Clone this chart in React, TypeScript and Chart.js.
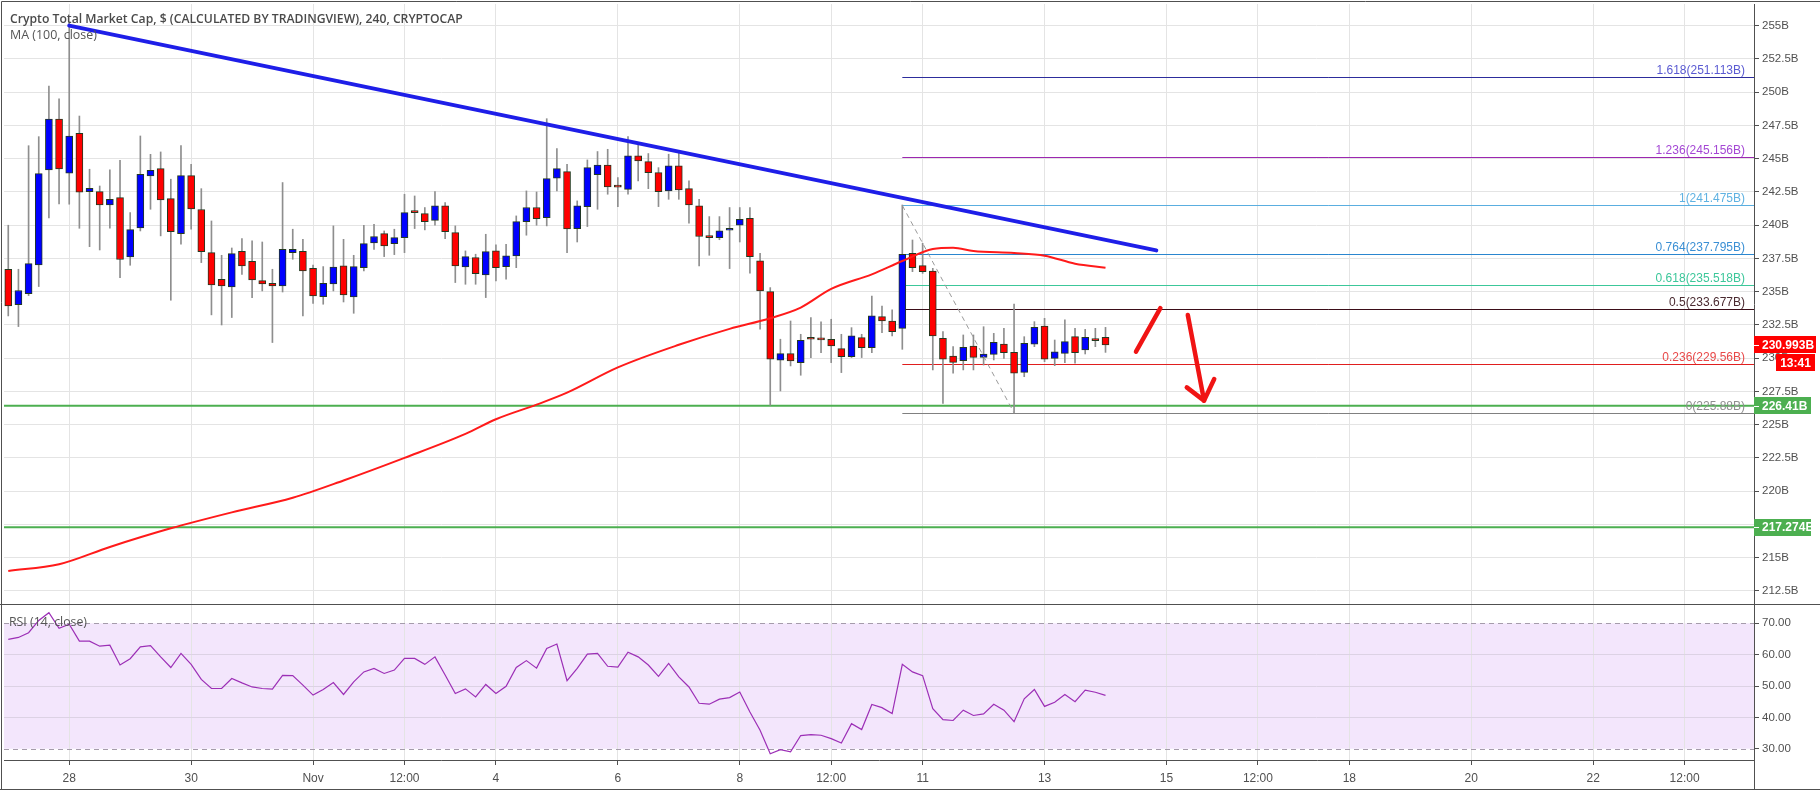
import React, { useEffect, useRef } from "react";
import { Chart, registerables } from "chart.js";

Chart.register(...registerables);

// ---------------- data ----------------
// 4h candles; bar index 0 = Oct 28 00:00. First candle is index -6.
const FIRST_INDEX = -6;

const candleOpen = [
  236.68, 234.02, 234.85, 237.0, 244.14, 247.98, 243.9, 246.9, 242.52, 242.52,
  241.52, 242.07, 237.6, 239.79, 243.7, 244.25, 241.99, 239.36, 243.72, 241.17,
  237.93, 235.93, 235.35, 238.03, 237.28, 235.83, 235.63, 235.43, 237.93, 238.03,
  236.75, 234.62, 235.58, 236.93, 234.6, 236.8, 238.66, 239.36, 238.61, 239.06,
  241.04, 240.86, 240.36, 241.44, 239.44, 236.85, 237.56, 236.25, 238.06, 236.88,
  237.68, 240.26, 241.32, 240.56, 243.52, 244.02, 239.74, 241.39, 243.8, 244.52,
  242.87, 242.69, 245.2, 244.77, 243.95, 242.57, 244.45, 242.74, 241.44, 239.14,
  239.06, 239.61, 239.99, 240.51, 237.31, 235.0, 229.84, 230.34, 229.66, 231.49,
  231.49, 231.42, 230.71, 230.11, 231.54, 230.79, 233.12, 232.79, 232.24, 237.88,
  236.95, 236.55, 231.49, 230.16, 229.81, 230.91, 230.06, 230.28, 231.06, 230.43,
  228.93, 231.04, 232.41, 229.98, 230.36, 231.61, 230.61, 231.36, 231.56,
];
const candleHigh = [
  239.99, 236.68, 245.97, 246.65, 250.46, 249.5, 255.2, 248.2, 244.2, 242.94,
  244.15, 244.87, 240.94, 246.7, 245.32, 245.5, 243.45, 245.97, 244.57, 242.74,
  240.31, 237.73, 238.28, 238.98, 238.81, 238.73, 236.68, 243.2, 239.69, 238.93,
  237.0, 236.88, 239.94, 238.93, 237.73, 239.99, 240.06, 239.56, 239.69, 242.32,
  242.19, 241.32, 242.52, 241.69, 239.94, 238.06, 237.81, 239.31, 238.51, 238.56,
  240.69, 242.57, 242.49, 248.0, 245.75, 244.57, 241.82, 244.9, 245.53, 245.7,
  243.57, 246.65, 246.0, 245.38, 244.32, 245.33, 245.4, 243.32, 241.94, 240.64,
  240.64, 241.32, 241.32, 241.32, 237.88, 235.3, 231.42, 232.79, 231.79, 233.04,
  232.72, 232.92, 231.79, 232.29, 231.79, 234.67, 233.92, 233.62, 241.51, 238.88,
  238.63, 236.75, 231.99, 230.86, 231.74, 231.74, 232.36, 231.86, 232.24, 234.07,
  231.61, 232.74, 232.99, 231.36, 232.87, 232.24, 232.16, 232.24, 232.31,
];
const candleLow = [
  233.17, 232.37, 234.7, 235.38, 240.54, 241.6, 241.57, 239.76, 238.38, 238.13,
  239.76, 236.05, 236.98, 239.56, 241.19, 239.19, 234.35, 238.56, 239.69, 237.18,
  233.25, 232.49, 233.05, 236.3, 234.55, 235.05, 231.17, 234.97, 237.43, 233.17,
  234.12, 234.05, 235.05, 234.22, 233.37, 236.55, 238.18, 237.63, 237.78, 237.93,
  239.74, 239.64, 239.99, 238.98, 235.68, 235.55, 235.55, 234.55, 235.8, 235.93,
  236.8, 239.24, 239.99, 239.94, 242.57, 237.93, 238.73, 239.89, 241.19, 242.32,
  241.39, 242.32, 243.32, 242.74, 241.39, 241.94, 241.94, 240.14, 236.93, 237.73,
  238.9, 236.73, 238.73, 236.38, 232.17, 226.45, 227.53, 229.41, 228.71, 230.04,
  230.41, 229.66, 228.91, 230.04, 230.04, 230.41, 231.92, 231.67, 230.66, 236.5,
  236.37, 229.11, 226.6, 228.86, 229.11, 229.11, 229.48, 229.86, 229.98, 225.88,
  228.6, 230.86, 229.73, 229.43, 229.66, 229.61, 230.31, 230.86, 230.43,
];
const candleClose = [
  233.92, 235.08, 237.1, 243.87, 247.98, 244.22, 246.7, 242.47, 242.77, 241.52,
  241.94, 237.41, 239.66, 243.82, 244.12, 241.9, 239.51, 243.72, 241.22, 238.0,
  235.5, 235.43, 237.86, 236.93, 235.88, 235.58, 235.43, 238.18, 238.18, 236.55,
  234.67, 235.63, 236.85, 234.75, 236.88, 238.61, 239.14, 238.43, 239.06, 240.94,
  240.94, 240.26, 241.44, 239.51, 236.93, 237.63, 236.35, 238.01, 236.8, 237.68,
  240.26, 241.32, 240.49, 243.5, 244.25, 239.71, 241.44, 244.32, 244.52, 242.87,
  242.85, 245.2, 244.82, 243.95, 242.52, 244.45, 242.64, 241.52, 239.14, 239.06,
  239.56, 239.74, 240.44, 237.63, 235.05, 229.91, 230.34, 229.79, 231.34, 231.42,
  231.37, 230.91, 230.11, 231.67, 230.79, 233.17, 232.79, 231.99, 237.8, 236.8,
  236.5, 231.66, 229.91, 229.68, 230.81, 230.06, 230.31, 231.19, 230.41, 228.86,
  231.11, 232.31, 229.91, 230.48, 231.24, 230.41, 231.56, 231.31, 230.99,
];

const rsiValues = [
  64.9, 65.5, 67.0, 70.9, 73.4, 68.4, 69.7, 64.3, 64.3, 62.7,
  63.0, 56.7, 58.7, 62.5, 62.9, 59.3, 55.9, 60.4, 56.9, 52.1,
  49.2, 49.2, 52.4, 51.0, 49.7, 49.2, 49.0, 53.4, 53.3, 50.3,
  47.1, 48.9, 51.1, 47.3, 51.3, 54.5, 55.6, 54.0, 55.1, 58.8,
  58.8, 56.9, 59.3, 53.5, 47.6, 49.1, 46.5, 50.5, 47.6, 49.9,
  55.9, 58.1, 55.7, 62.0, 63.4, 51.7, 55.6, 60.2, 60.4, 56.3,
  56.0, 60.8, 59.3, 56.7, 53.1, 57.2, 52.9, 49.7, 44.5, 44.2,
  45.8, 46.3, 48.1, 41.7, 35.9, 28.4, 29.7, 29.0, 34.2, 34.5,
  34.3, 33.2, 31.8, 38.0, 36.1, 44.1, 43.1, 41.2, 56.9, 54.5,
  53.3, 42.8, 39.3, 39.0, 42.3, 40.6, 41.1, 44.2, 42.3, 38.6,
  45.9, 48.9, 43.5, 44.8, 47.3, 45.0, 48.7, 48.0, 47.0,
];

// MA(100) read at a subset of bars
const maIndex = [-6, -1, 4, 10, 16, 22, 27, 33, 39, 42, 46, 49, 54, 60, 65, 69, 72, 75, 79, 82, 85, 87, 89, 93, 96, 99, 102];
const maValues = [214.0, 214.5, 215.8, 217.2, 218.4, 219.5, 220.8, 222.5, 224.3, 225.4, 226.5, 227.4, 229.3, 231.0, 232.2, 233.0, 233.8, 235.2, 236.3, 237.3, 238.2, 238.3, 238.05, 237.9, 237.7, 237.1, 236.8];

// descending trend line
const trendIndex = [0, 107];
const trendValues = [255.0, 238.1];

// fibonacci extension
const fibLevels = [1.618, 1.236, 1, 0.764, 0.618, 0.5, 0.236, 0];
const fibValues = [251.113, 245.156, 241.475, 237.795, 235.518, 233.677, 229.56, 225.88];
const fibLineColors = ["#2d2d9c", "#9c27b0", "#5aaee0", "#2a86cf", "#3cc79a", "#3b0d18", "#e01e1e", "#808080"];
const fibTextColors = ["#5a5ad2", "#a447d4", "#5fb2e2", "#3a8fd4", "#3cc79a", "#4a2a30", "#e84848", "#8f8f8f"];
const fibStartIndex = 82;
const fibAnchorIndex = [82, 93];
const fibAnchorValues = [241.475, 225.88];

// horizontal supports
const supportLevels = [226.41, 217.274];
const supportLabels = ["226.41B", "217.274B"];

const lastPrice = 230.993;
const lastPriceLabel = "230.993B";
const countdownLabel = "13:41";

// hand-drawn arrows
const arrowUpIndex = [105.0, 107.4];
const arrowUpValues = [230.48, 233.75];
const arrowDownIndex = [110.1, 111.7];
const arrowDownValues = [233.24, 226.8];
const arrowHeadIndex = [110.0, 111.7, 112.7];
const arrowHeadValues = [227.8, 226.8, 228.43];

const priceTicks = [212.5, 215, 217.5, 220, 222.5, 225, 227.5, 230, 232.5, 235, 237.5, 240, 242.5, 245, 247.5, 250, 252.5, 255];
const rsiTicks = [30, 40, 50, 60, 70];
const timeTickIndex = [0, 12, 24, 33, 42, 54, 66, 75, 84, 96, 108, 117, 126, 138, 150, 159];
const timeTickLabels = ["28", "30", "Nov", "12:00", "4", "6", "8", "12:00", "11", "13", "15", "12:00", "18", "20", "22", "12:00"];

const titleText = "Crypto Total Market Cap, $ (CALCULATED BY TRADINGVIEW), 240, CRYPTOCAP";
const maText = "MA (100, close)";
const rsiText = "RSI (14, close)";

// ---------------- layout / style ----------------
const X_MIN = -6.42;
const X_MAX = 165.83;
const PRICE_MIN = 211.511;
const PRICE_MAX = 256.624;
const RSI_MIN = 26.4;
const RSI_MAX = 76.16;

const AXIS_FONT = "'Liberation Sans', Arial, sans-serif";
const TITLE_FONT = "'Open Sans', 'Noto Sans', sans-serif";
const GRID = "#e4e4e4";
const AXIS_LINE = "#505050";
const TEXT = "#505050";

function fitText(ctx: CanvasRenderingContext2D, text: string, x: number, y: number, weight: string, family: string, target: number, color: string) {
  ctx.font = `${weight} 20px ${family}`;
  const w = ctx.measureText(text).width;
  const size = (20 * target) / w;
  ctx.font = `${weight} ${size.toFixed(2)}px ${family}`;
  ctx.fillStyle = color;
  ctx.textAlign = "left";
  ctx.textBaseline = "alphabetic";
  ctx.fillText(text, x, y);
}

const pts = (xs: number[], ys: number[]) => xs.map((x, i) => ({ x, y: ys[i] }));

const mainPlugin = {
  id: "mainOverlay",
  beforeDatasetsDraw(chart: any) {
    const { ctx, chartArea: a, scales } = chart;
    const x = scales.x;
    const y = scales.y;
    ctx.save();
    ctx.beginPath();
    ctx.rect(a.left, a.top, a.right - a.left, a.bottom - a.top);
    ctx.clip();
    const xs = x.getPixelForValue(fibStartIndex);
    fibValues.forEach((v, i) => {
      const py = Math.round(y.getPixelForValue(v)) + 0.5;
      ctx.strokeStyle = fibLineColors[i];
      ctx.lineWidth = 1;
      ctx.beginPath();
      ctx.moveTo(xs, py);
      ctx.lineTo(a.right, py);
      ctx.stroke();
    });
    supportLevels.forEach((v) => {
      const py = y.getPixelForValue(v);
      ctx.strokeStyle = "#4caf50";
      ctx.lineWidth = 2;
      ctx.beginPath();
      ctx.moveTo(a.left, py);
      ctx.lineTo(a.right, py);
      ctx.stroke();
    });
    ctx.restore();
  },
  afterDraw(chart: any) {
    const { ctx, chartArea: a, scales } = chart;
    const y = scales.y;
    ctx.save();
    // fib labels
    ctx.font = `12px ${AXIS_FONT}`;
    ctx.textAlign = "right";
    ctx.textBaseline = "alphabetic";
    fibValues.forEach((v, i) => {
      const py = y.getPixelForValue(v);
      ctx.fillStyle = fibTextColors[i];
      ctx.fillText(`${fibLevels[i]}(${v}B)`, a.right - 9, py - 3);
    });
    // titles
    fitText(ctx, titleText, 10, 22.5, "600", TITLE_FONT, 453, "#4a4a4a");
    fitText(ctx, maText, 10, 39, "400", TITLE_FONT, 87, "#555555");

    // axis boxes
    const box = (cy: number, x0: number, x1: number, fill: string, text: string, tick: boolean) => {
      ctx.fillStyle = fill;
      ctx.fillRect(x0, Math.round(cy - 8.5), x1 - x0, 17);
      if (tick) {
        ctx.strokeStyle = "#ffffff";
        ctx.lineWidth = 1;
        ctx.beginPath();
        ctx.moveTo(x0, Math.round(cy) + 0.5);
        ctx.lineTo(x0 + 5, Math.round(cy) + 0.5);
        ctx.stroke();
      }
      ctx.fillStyle = "#ffffff";
      ctx.font = `bold 12px ${AXIS_FONT}`;
      ctx.textBaseline = "middle";
      ctx.textAlign = tick ? "left" : "center";
      ctx.fillText(text, tick ? x0 + 8 : (x0 + x1) / 2, Math.round(cy) + 0.5);
    };
    const yl = y.getPixelForValue(lastPrice);
    box(yl, a.right, 1816, "#ff0000", lastPriceLabel, true);
    box(yl + 18, a.right + 22, 1815, "#ff0000", countdownLabel, false);
    supportLevels.forEach((v, i) => {
      box(y.getPixelForValue(v), a.right, 1811, "#4caf50", supportLabels[i], true);
    });

    // frame
    ctx.strokeStyle = AXIS_LINE;
    ctx.lineWidth = 1;
    ctx.beginPath();
    ctx.moveTo(1.5, chart.height);
    ctx.lineTo(1.5, 1.5);
    ctx.lineTo(chart.width, 1.5);
    ctx.stroke();
    ctx.restore();
  },
};

const rsiPlugin = {
  id: "rsiOverlay",
  beforeDraw(chart: any) {
    const { ctx, chartArea: a, scales } = chart;
    const y = scales.y;
    const y70 = y.getPixelForValue(70);
    const y30 = y.getPixelForValue(30);
    ctx.save();
    ctx.fillStyle = "#f3e6fc";
    ctx.fillRect(a.left, y70, a.right - a.left, y30 - y70);
    ctx.restore();
  },
  beforeDatasetsDraw(chart: any) {
    const { ctx, chartArea: a, scales } = chart;
    const y = scales.y;
    ctx.save();
    ctx.strokeStyle = "#a59cab";
    ctx.lineWidth = 1;
    ctx.setLineDash([5, 4]);
    [70, 30].forEach((v) => {
      const py = Math.round(y.getPixelForValue(v)) + 0.5;
      ctx.beginPath();
      ctx.moveTo(a.left, py);
      ctx.lineTo(a.right, py);
      ctx.stroke();
    });
    ctx.restore();
  },
  afterDraw(chart: any) {
    const { ctx, chartArea: a } = chart;
    ctx.save();
    fitText(ctx, rsiText, 9, 21.5, "400", TITLE_FONT, 78, "#555555");
    ctx.strokeStyle = AXIS_LINE;
    ctx.lineWidth = 1;
    ctx.beginPath();
    ctx.moveTo(0, 0.5);
    ctx.lineTo(chart.width, 0.5);
    ctx.moveTo(0, 185.5);
    ctx.lineTo(chart.width, 185.5);
    ctx.moveTo(1.5, 0);
    ctx.lineTo(1.5, 186);
    ctx.moveTo(a.right + 0.5, a.bottom);
    ctx.lineTo(a.right + 0.5, 186);
    ctx.stroke();
    ctx.restore();
  },
};

export default function App() {
  const mainRef = useRef<HTMLCanvasElement>(null);
  const rsiRef = useRef<HTMLCanvasElement>(null);

  useEffect(() => {
    const n = candleOpen.length;
    const idx = Array.from({ length: n }, (_, i) => FIRST_INDEX + i);
    const wickData = idx.map((x, i) => ({ x, y: [candleLow[i], candleHigh[i]] }));
    const bodyData = idx.map((x, i) => ({ x, y: [candleOpen[i], candleClose[i]] }));
    const bodyColors = idx.map((_, i) => (candleClose[i] >= candleOpen[i] ? "#0000ff" : "#ff0000"));

    const lineBase = { type: "line" as const, pointRadius: 0, fill: false, tension: 0 };

    const main = new Chart(mainRef.current!, {
      type: "bar",
      data: {
        datasets: [
          { ...lineBase, data: pts(arrowUpIndex, arrowUpValues), borderColor: "#f01414", borderWidth: 4.5, borderCapStyle: "round", borderJoinStyle: "round", order: 0 } as any,
          { ...lineBase, data: pts(arrowDownIndex, arrowDownValues), borderColor: "#f01414", borderWidth: 4.5, borderCapStyle: "round", borderJoinStyle: "round", order: 0 } as any,
          { ...lineBase, data: pts(arrowHeadIndex, arrowHeadValues), borderColor: "#f01414", borderWidth: 4.5, borderCapStyle: "round", borderJoinStyle: "round", order: 0 } as any,
          { ...lineBase, data: pts(trendIndex, trendValues), borderColor: "#1e1ee8", borderWidth: 4, borderCapStyle: "round", order: 1 } as any,
          { ...lineBase, data: pts(maIndex, maValues), borderColor: "#ff1a1a", borderWidth: 2, tension: 0.4, cubicInterpolationMode: "monotone", order: 2 } as any,
          { ...lineBase, data: pts(fibAnchorIndex, fibAnchorValues), borderColor: "#9a9a9a", borderWidth: 1, borderDash: [5, 4], order: 3 } as any,
          { type: "bar", data: bodyData, barThickness: 7, backgroundColor: bodyColors, borderColor: "#22391f", borderWidth: 1, borderSkipped: false, grouped: false, minBarLength: 2, order: 4 } as any,
          { type: "bar", data: wickData, barThickness: 1, backgroundColor: "#8e8e8e", borderWidth: 0, grouped: false, order: 5 } as any,
        ],
      },
      options: {
        responsive: false,
        animation: false,
        devicePixelRatio: 1,
        events: [],
        layout: { padding: { left: 4, top: 4, right: 0, bottom: 0 } },
        plugins: { legend: { display: false }, tooltip: { enabled: false } },
        scales: {
          x: {
            type: "linear",
            min: X_MIN,
            max: X_MAX,
            offset: false,
            grid: { color: GRID, drawTicks: false, offset: false },
            border: { display: false },
            ticks: { display: false },
            afterBuildTicks: (s: any) => {
              s.ticks = timeTickIndex.map((v) => ({ value: v }));
            },
            afterFit: (s: any) => {
              s.height = 0;
              s.paddingLeft = 0;
              s.paddingRight = 0;
            },
          },
          y: {
            type: "linear",
            position: "right",
            min: PRICE_MIN,
            max: PRICE_MAX,
            grid: { color: GRID, tickColor: AXIS_LINE, tickLength: 5, drawTicks: true },
            border: { display: true, color: AXIS_LINE },
            ticks: {
              color: TEXT,
              padding: 3,
              font: { family: AXIS_FONT, size: 11.5 },
              callback: (v: any) => `${v}B`,
            },
            afterBuildTicks: (s: any) => {
              s.ticks = priceTicks.map((v) => ({ value: v }));
            },
            afterFit: (s: any) => {
              s.width = 66;
              s.paddingTop = 0;
              s.paddingBottom = 0;
            },
          },
        },
      } as any,
      plugins: [mainPlugin],
    });

    const rsi = new Chart(rsiRef.current!, {
      type: "line",
      data: {
        datasets: [
          { data: pts(idx, rsiValues), borderColor: "#9c2fb6", borderWidth: 1.2, pointRadius: 0, fill: false, tension: 0 } as any,
        ],
      },
      options: {
        responsive: false,
        animation: false,
        devicePixelRatio: 1,
        events: [],
        layout: { padding: { left: 4, top: 0, right: 0, bottom: 0 } },
        plugins: { legend: { display: false }, tooltip: { enabled: false } },
        scales: {
          x: {
            type: "linear",
            min: X_MIN,
            max: X_MAX,
            offset: false,
            grid: { color: GRID, tickColor: AXIS_LINE, tickLength: 5, drawTicks: true, offset: false },
            border: { display: true, color: AXIS_LINE },
            ticks: {
              color: TEXT,
              padding: 6,
              autoSkip: false,
              maxRotation: 0,
              minRotation: 0,
              font: { family: AXIS_FONT, size: 12 },
              callback: (v: any) => {
                const k = timeTickIndex.indexOf(v);
                return k >= 0 ? timeTickLabels[k] : "";
              },
            },
            afterBuildTicks: (s: any) => {
              s.ticks = timeTickIndex.map((v) => ({ value: v }));
            },
            afterFit: (s: any) => {
              s.height = 32;
              s.paddingLeft = 0;
              s.paddingRight = 0;
            },
          },
          y: {
            type: "linear",
            position: "right",
            min: RSI_MIN,
            max: RSI_MAX,
            grid: {
              color: (c: any) => (c.tick && (c.tick.value === 30 || c.tick.value === 70) ? "rgba(0,0,0,0)" : "#dcd2e4"),
              tickColor: AXIS_LINE,
              tickLength: 5,
              drawTicks: true,
            },
            border: { display: true, color: AXIS_LINE },
            ticks: {
              color: TEXT,
              padding: 3,
              font: { family: AXIS_FONT, size: 11.5 },
              callback: (v: any) => Number(v).toFixed(2),
            },
            afterBuildTicks: (s: any) => {
              s.ticks = rsiTicks.map((v) => ({ value: v }));
            },
            afterFit: (s: any) => {
              s.width = 66;
              s.paddingTop = 0;
              s.paddingBottom = 0;
            },
          },
        },
      } as any,
      plugins: [rsiPlugin],
    });

    return () => {
      main.destroy();
      rsi.destroy();
    };
  }, []);

  return (
    <div style={{ position: "absolute", left: 0, top: 0, width: 1820, height: 792, background: "#ffffff", overflow: "hidden" }}>
      <canvas ref={mainRef} width={1820} height={604} style={{ position: "absolute", left: 0, top: 0, width: 1820, height: 604 }} />
      <canvas ref={rsiRef} width={1820} height={188} style={{ position: "absolute", left: 0, top: 604, width: 1820, height: 188 }} />
    </div>
  );
}
